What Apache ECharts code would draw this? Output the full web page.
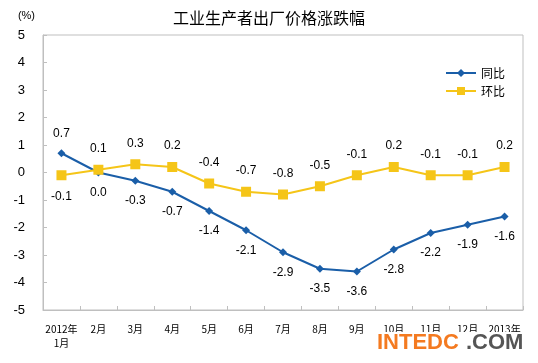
<!DOCTYPE html>
<html><head><meta charset="utf-8">
<script src="https://cdn.jsdelivr.net/npm/echarts@6/dist/echarts.min.js"></script>
<style>html,body{margin:0;padding:0;background:#fff}#c{width:538px;height:363px}</style>
</head><body><div id="c"></div>
<script>
const categories = ['2012年\n1月','2月','3月','4月','5月','6月','7月','8月','9月','10月','11月','12月','2013年\n1月'];
const yoy = [0.7, 0.0, -0.3, -0.7, -1.4, -2.1, -2.9, -3.5, -3.6, -2.8, -2.2, -1.9, -1.6];
const mom = [-0.1, 0.1, 0.3, 0.2, -0.4, -0.7, -0.8, -0.5, -0.1, 0.2, -0.1, -0.1, 0.2];
const yTicks = [-5, 5, 1];
const font = '"Liberation Sans", Arial, "Noto Sans CJK SC", sans-serif';
const chart = echarts.init(document.getElementById('c'), null, {renderer: 'canvas'});
chart.setOption({
  animation: false,
  textStyle: {fontFamily: font},
  title: {text: '工业生产者出厂价格涨跌幅', left: 'center', top: 5,
    textStyle: {fontSize: 16, fontWeight: 'normal', color: '#000', fontFamily: '"Noto Sans CJK SC", sans-serif'}},
  legend: {
    orient: 'vertical', right: 28, top: 62, itemGap: 6,
    itemWidth: 30, itemHeight: 10,
    textStyle: {fontSize: 12, color: '#000', fontFamily: '"Noto Sans CJK SC", sans-serif'},
    data: ['同比', '环比']
  },
  grid: {left: 43, right: 15, top: 35, bottom: 53, show: true, borderColor: '#bfbfbf', borderWidth: 1},
  xAxis: {
    type: 'category', data: categories, boundaryGap: true,
    axisLine: {show: true, onZero: false, lineStyle: {color: '#bfbfbf'}},
    axisTick: {show: true, alignWithLabel: false, inside: true, length: 4, lineStyle: {color: '#bfbfbf'}},
    axisLabel: {interval: 0, fontSize: 10, color: '#000', margin: 12, lineHeight: 14, fontFamily: '"Noto Sans CJK SC", sans-serif'}
  },
  yAxis: {
    type: 'value', min: yTicks[0], max: yTicks[1], interval: yTicks[2],
    splitLine: {show: false},
    axisLine: {show: true, lineStyle: {color: '#bfbfbf'}},
    axisTick: {show: true, inside: true, length: 4, lineStyle: {color: '#bfbfbf'}},
    axisLabel: {fontSize: 13, color: '#000', margin: 18, fontFamily: font},
    name: '(%)', nameLocation: 'end', nameGap: 14,
    nameTextStyle: {fontSize: 11, color: '#000', align: 'right', padding: [0, 8, 0, 0]}
  },
  series: [
    {
      name: '同比', type: 'line', data: yoy.map((v, i) => ({value: v, label: {position: i === 0 ? 'top' : 'bottom'}})),
      symbol: 'diamond', symbolSize: 8,
      lineStyle: {color: '#1a5ea8', width: 2}, itemStyle: {color: '#1a5ea8'},
      label: {show: true, distance: 10, fontSize: 12, color: '#000', formatter: p => p.value.toFixed(1)}
    },
    {
      name: '环比', type: 'line', data: mom.map((v, i) => ({value: v, label: {position: i === 0 ? 'bottom' : 'top'}})),
      symbol: 'rect', symbolSize: 10,
      lineStyle: {color: '#f5c518', width: 2}, itemStyle: {color: '#f5c518'},
      label: {show: true, distance: 10, fontSize: 12, color: '#000', formatter: p => p.value.toFixed(1)}
    }
  ],
  graphic: [
    {type: 'rect', left: 374, top: 332, shape: {width: 146, height: 24}, style: {fill: '#fff'}, z: 100},
    {type: 'text', left: 377, top: 332, z: 101,
      style: {text: 'INTEDC', fill: '#f47a20', font: 'bold 22px "Liberation Sans", Arial, sans-serif'}},
    {type: 'text', left: 466, top: 332, z: 101,
      style: {text: '.COM', fill: '#555555', font: 'bold 22px "Liberation Sans", Arial, sans-serif'}}
  ]
});
</script></body></html>
